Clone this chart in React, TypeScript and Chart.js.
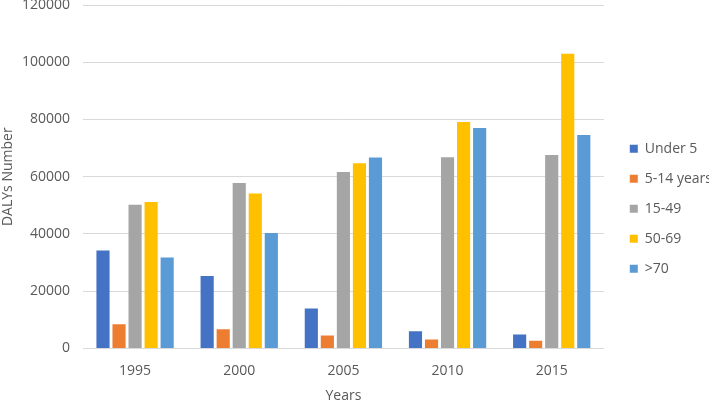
import React, { useEffect, useRef } from "react";
import { Chart, registerables } from "chart.js";

Chart.register(...registerables);

const years = ["1995", "2000", "2005", "2010", "2015"];
const under5 = [34200, 25300, 13900, 6000, 4900];
const age5to14 = [8400, 6700, 4500, 3100, 2700];
const age15to49 = [50200, 57800, 61600, 66800, 67600];
const age50to69 = [51200, 54100, 64700, 79100, 103000];
const over70 = [31800, 40300, 66700, 77000, 74600];
const yTicks = [0, 20000, 40000, 60000, 80000, 100000, 120000];

const seriesNames = ["Under 5", "5-14 years", "15-49", "50-69", ">70"];
const seriesColors = ["#4472C4", "#ED7D31", "#A5A5A5", "#FFC000", "#5B9BD5"];

export default function App() {
  const ref = useRef<HTMLCanvasElement | null>(null);
  useEffect(() => {
    if (!ref.current) return;
    const values = [under5, age5to14, age15to49, age50to69, over70];
    const font = "'Open Sans', 'Liberation Sans', sans-serif";
    const chart = new Chart(ref.current, {
      type: "bar",
      data: {
        labels: years,
        datasets: values.map((v, i) => ({
          label: seriesNames[i],
          data: v,
          backgroundColor: seriesColors[i],
          borderWidth: 0,
          barPercentage: 0.82,
          categoryPercentage: 0.77,
          yAxisID: "y",
        })),
      },
      options: {
        animation: false,
        responsive: false,
        maintainAspectRatio: false,
        layout: { padding: { top: 5, right: -13, bottom: -4, left: 0 } },
        plugins: {
          tooltip: { enabled: false },
          legend: {
            position: "right",
            align: "center",
            title: { display: true, text: "", padding: 0, font: { size: 7 } },
            labels: {
              boxWidth: 8,
              boxHeight: 8,
              padding: 16,
              color: "#595959",
              font: { family: font, size: 14 },
            },
          },
        },
        scales: {
          x: {
            grid: { display: false },
            border: { display: true, color: "#D9D9D9" },
            ticks: { color: "#595959", font: { family: font, size: 14 }, padding: 6 },
            title: {
              display: true,
              text: "Years",
              color: "#595959",
              font: { family: font, size: 14 },
              padding: { top: 2, bottom: 0 },
            },
          },
          y: {
            min: 0,
            max: 120000,
            afterBuildTicks: (axis: any) => {
              axis.ticks = yTicks.map((v) => ({ value: v }));
            },
            afterFit: (axis: any) => {
              axis.paddingTop = 0;
              axis.paddingBottom = 0;
              axis.width = 83;
            },
            grid: { color: "#D9D9D9", drawTicks: false },
            border: { display: false },
            ticks: {
              color: "#595959",
              font: { family: font, size: 14 },
              padding: 13,
              callback: (v: any) => String(v),
            },
            title: {
              display: true,
              text: "DALYs Number",
              color: "#595959",
              font: { family: font, size: 14 },
              padding: { top: 0, bottom: 4 },
            },
          },
          gap: {
            position: "right",
            display: true,
            grid: { display: false },
            border: { display: false },
            ticks: { display: false },
            afterFit: (axis: any) => {
              axis.width = 10;
            },
          },
        },
      },
    });
    return () => chart.destroy();
  }, []);
  return (
    <div style={{ position: "fixed", left: 0, top: 0, width: 709, height: 400, background: "#fff" }}>
      <canvas ref={ref} width={709} height={400} style={{ width: 709, height: 400 }} />
    </div>
  );
}
